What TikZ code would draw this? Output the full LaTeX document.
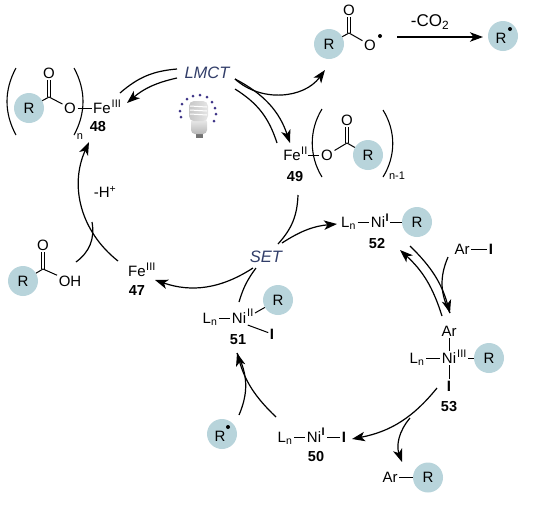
\documentclass[tikz,border=0pt]{standalone}
\usepackage{fontspec}
\setmainfont{Liberation Sans}
\usetikzlibrary{arrows.meta}
\definecolor{rcol}{RGB}{184,212,219}
\definecolor{stepcol}{RGB}{50,62,105}
\definecolor{dotcol}{RGB}{62,52,135}
\tikzset{
  % atom or fragment text
  atom/.style={inner sep=1.5pt, text height=10.7pt, text depth=0pt, font=\fontsize{15}{18}\selectfont},
  % oxidation state
  oxstate/.style={inner sep=0.5pt, font=\fontsize{11}{12}\selectfont},
  % oxidation state I, heavy
  oxheavy/.style={inner sep=0.5pt, font=\fontsize{11}{12}\selectfont\bfseries},
  % iodine
  iodine/.style={atom, font=\fontsize{15}{18}\selectfont\bfseries},
  % R group disc
  rgroup/.style={circle, fill=rcol, inner sep=0pt, minimum size=30pt, text height=10.7pt, text depth=0pt,
                 font=\fontsize{15}{18}\selectfont},
  % radical dot
  raddot/.style={circle, fill=black, inner sep=0pt, minimum size=4pt},
  % compound number
  cpdlabel/.style={inner sep=0pt, font=\fontsize{14.5}{16}\selectfont\bfseries},
  % step name
  steplabel/.style={inner sep=0pt, text=stepcol, font=\fontsize{16.5}{18}\selectfont\itshape},
  % loss label
  losslabel/.style={inner sep=0pt, font=\fontsize{15}{18}\selectfont},
  % bonds
  bond/.style={line width=1pt},
  % one stroke of a double bond
  dbondl/.style={bond, transform canvas={xshift=-1.3pt}},
  dbondr/.style={bond, transform canvas={xshift=1.3pt}},
  % brackets
  paren/.style={line width=1.1pt},
  % plain curve
  rxnline/.style={line width=1.2pt},
  % curve with head
  rxnarrow/.style={rxnline, -{Stealth[length=13pt,width=9.5pt,inset=3.5pt]}},
}
\begin{document}
\begin{tikzpicture}[x=1pt,y=-1pt]
  \useasboundingbox (0,0) rectangle (557,504);

  % 48
  \node[rgroup] (r48) at (29,108) {R};
  \coordinate (c48) at (49,97);
  \node[atom] (otop48) at (49,73) {O};
  \node[atom] (o48) at (70,108) {O};
  \node[atom] (fe48) at (102,108) {Fe};
  \node[oxstate, anchor=west] (ox48) at (111,103.5) {III};
  \node[cpdlabel] (lab48) at (98,127) {48};
  \node[losslabel, font=\fontsize{11}{12}\selectfont] (n48) at (80,137) {n};
  \draw[bond] (r48) -- (c48);
  \draw[dbondl] (c48) -- (otop48);
  \draw[dbondr] (c48) -- (otop48);
  \draw[bond] (c48) -- (o48);
  \draw[bond] (o48) -- (fe48);
  \draw[paren] (16,68) .. controls (4,90) and (4,113) .. (16,135);
  \draw[paren] (74,68) .. controls (86,90) and (86,113) .. (74,135);

  % carboxyl radical and R radical
  \node[rgroup] (rtop) at (329,44) {R};
  \coordinate (ctop) at (349,33);
  \node[atom] (otop) at (349,10) {O};
  \node[atom] (orad) at (370,45) {O};
  \node[raddot] (dotrad) at (380,36) {};
  \node[rgroup] (rfree) at (503,36) {};
  \node[atom] (rfreetext) at (501,38) {R};
  \node[raddot] (dotfree) at (510,29) {};
  \node[losslabel, font=\fontsize{17}{18}\selectfont] (co2) at (430,22) {-CO\textsubscript{2}};
  \draw[bond] (rtop) -- (ctop);
  \draw[dbondl] (ctop) -- (otop);
  \draw[dbondr] (ctop) -- (otop);
  \draw[bond] (ctop) -- (orad);
  \coordinate (co2start) at (397,37);
  \coordinate (co2end) at (483,37);
  \draw[rxnarrow] (co2start) -- (co2end);

  % 49
  \node[atom] (fe49) at (292,155) {Fe};
  \node[oxstate, anchor=west] (ox49) at (300.5,151) {II};
  \coordinate (bond49) at (308,155);
  \node[atom] (o49) at (327,155) {O};
  \coordinate (c49) at (347,143);
  \node[atom] (otop49) at (347,120) {O};
  \node[rgroup] (r49) at (368,155) {R};
  \node[cpdlabel] (lab49) at (295,177) {49};
  \node[losslabel, font=\fontsize{11}{12}\selectfont] (n49) at (397,176) {n-1};
  \draw[bond] (bond49) -- (o49);
  \draw[bond] (o49) -- (c49);
  \draw[dbondl] (c49) -- (otop49);
  \draw[dbondr] (c49) -- (otop49);
  \draw[bond] (c49) -- (r49);
  \draw[paren] (322,109) .. controls (309,130) and (309,156) .. (322,177);
  \draw[paren] (383,110) .. controls (396,131) and (396,156) .. (383,177);

  % LMCT and lamp
  \node[steplabel] (lmct) at (207,73) {LMCT};
  \foreach \dotx/\doty in {181/117,180/111,182/104,187/99,193/96,200/95,207/97,212/102,215/108,216/114,214/121}
    \fill[dotcol] (\dotx,\doty) circle (1.5pt);
  \fill[black!55] (196,132) rectangle (203,138);
  \shade[top color=black!6, bottom color=black!28, rounded corners=4pt] (191,118) rectangle (207,134);
  \shade[left color=black!22, right color=black!10, rounded corners=5pt] (189,101) rectangle (208,121);
  \foreach \liney in {106,110,114}
    \draw[white, line width=1pt] (190,\liney) -- (207,\liney+1);

  \coordinate (lmctA) at (120,93);
  \coordinate (lmctB) at (177,69);
  \coordinate (lmctC) at (177,78);
  \coordinate (lmctD) at (127,103);
  \coordinate (lmctE) at (235,79);
  \coordinate (lmctF) at (325,70);
  \coordinate (lmctG) at (290,143);
  \coordinate (lmctH) at (235,89);
  \coordinate (lmctI) at (277,143);
  \draw[rxnline] (lmctA) to[bend left=18] (lmctB);
  \draw[rxnarrow] (lmctC) to[bend right=14] (lmctD);
  \draw[rxnarrow] (lmctE) to[bend right=48] (lmctF);
  \draw[rxnarrow] (lmctE) to[bend left=22] (lmctG);
  \draw[rxnline] (lmctH) to[bend left=20] (lmctI);

  % SET
  \node[steplabel] (set) at (266,257) {SET};
  \coordinate (setA) at (298,195);
  \coordinate (setB) at (278,244);
  \coordinate (setC) at (282,243);
  \coordinate (setD) at (337,224);
  \coordinate (setE) at (253,268);
  \coordinate (setF) at (155,280);
  \coordinate (setG) at (256,268);
  \coordinate (setH) at (239,302);
  \draw[rxnline] (setA) to[bend left=20] (setB);
  \draw[rxnarrow] (setC) to[bend left=14] (setD);
  \draw[rxnarrow] (setE) to[bend left=26] (setF);
  \draw[rxnline] (setG) to[bend right=10] (setH);

  % 47 and acid
  \node[atom] (fe47) at (137,271) {Fe};
  \node[oxstate, anchor=west] (ox47) at (145.5,267) {III};
  \node[cpdlabel] (lab47) at (137,291) {47};
  \node[rgroup] (racid) at (23,281) {R};
  \coordinate (cacid) at (43,269);
  \node[atom] (oacid) at (43,245) {O};
  \node[atom] (ohacid) at (70,281) {OH};
  \node[losslabel] (hloss) at (105,192) {-H\textsuperscript{+}};
  \draw[bond] (racid) -- (cacid);
  \draw[dbondl] (cacid) -- (oacid);
  \draw[dbondr] (cacid) -- (oacid);
  \draw[bond] (cacid) -- (ohacid);
  \coordinate (ironA) at (118,261);
  \coordinate (ironB) at (89,142);
  \coordinate (acidA) at (76,262);
  \coordinate (acidB) at (92,222);
  \draw[rxnarrow] (ironA) to[bend left=38] (ironB);
  \draw[rxnline] (acidA) to[bend right=32] (acidB);

  % 51
  \node[atom] (ln51) at (210,318) {L\textsubscript{n}};
  \node[atom] (ni51) at (239,318) {Ni};
  \node[oxstate, anchor=west] (ox51) at (246.5,313) {II};
  \coordinate (bond51) at (255,313);
  \node[rgroup] (r51) at (278,300) {R};
  \node[iodine] (i51) at (272,334) {I};
  \node[cpdlabel] (lab51) at (238,340) {51};
  \draw[bond] (ln51) -- (ni51);
  \draw[bond] (bond51) -- (r51);
  \draw[bond] (ni51.south east) -- (i51);

  % 52
  \node[atom] (ln52) at (348.5,222) {L\textsubscript{n}};
  \node[atom] (ni52) at (378,222) {Ni};
  \node[oxheavy, anchor=west] (ox52) at (385,218) {I};
  \coordinate (bond52) at (390,222);
  \node[rgroup] (r52) at (417,222) {R};
  \node[cpdlabel] (lab52) at (377,244) {52};
  \draw[bond] (ln52) -- (ni52);
  \draw[bond] (bond52) -- (r52);

  % aryl iodide
  \node[atom] (ar) at (462,249) {Ar};
  \node[iodine] (iar) at (491,249) {I};
  \draw[bond] (ar) -- (iar);

  % 53
  \node[atom] (ar53) at (449,331) {Ar};
  \node[atom] (ni53) at (449,358) {Ni};
  \node[oxstate, anchor=west] (ox53) at (456.5,354) {III};
  \coordinate (bond53) at (468,358);
  \node[atom] (ln53) at (417,358) {L\textsubscript{n}};
  \node[rgroup] (r53) at (489,358) {R};
  \node[iodine] (i53) at (449,386) {I};
  \node[cpdlabel] (lab53) at (449,407) {53};
  \draw[bond] (ar53) -- (ni53);
  \draw[bond] (ni53) -- (i53);
  \draw[bond] (ln53) -- (ni53);
  \draw[bond] (bond53) -- (r53);
  \coordinate (oxaddA) at (448,257);
  \coordinate (oxaddB) at (450,313);
  \coordinate (oxaddC) at (410,246);
  \coordinate (oxaddD) at (442,316);
  \coordinate (oxaddE) at (400,250);
  \draw[rxnline] (oxaddA) to[bend right=25] (oxaddB);
  \draw[rxnarrow] (oxaddC) to[bend left=15] (oxaddB);
  \draw[rxnarrow] (oxaddD) to[bend right=15] (oxaddE);

  % 50 and products
  \node[atom] (ln50) at (285,437) {L\textsubscript{n}};
  \node[atom] (ni50) at (314,437) {Ni};
  \node[oxheavy, anchor=west] (ox50) at (321,432) {I};
  \coordinate (bond50) at (327,437);
  \node[iodine] (i50) at (344,437) {I};
  \node[cpdlabel] (lab50) at (316,457) {50};
  \node[atom] (arprod) at (390,477.5) {Ar};
  \node[rgroup] (rprod) at (428,477.5) {R};
  \node[rgroup] (rad) at (222,434) {};
  \node[atom] (radtext) at (220,436) {R};
  \node[raddot] (dotrad2) at (228,427) {};
  \draw[bond] (ln50) -- (ni50);
  \draw[bond] (bond50) -- (i50);
  \draw[bond] (arprod) -- (rprod);
  \coordinate (redA) at (437,388);
  \coordinate (redB) at (352,439);
  \coordinate (redC) at (410,418);
  \coordinate (redD) at (402,462);
  \coordinate (capA) at (276,417);
  \coordinate (capB) at (237,353);
  \coordinate (capC) at (239,415);
  \draw[rxnarrow] (redA) to[bend left=20] (redB);
  \draw[rxnarrow] (redC) to[bend right=30] (redD);
  \draw[rxnarrow] (capA) to[bend left=15] (capB);
  \draw[rxnline] (capC) to[bend right=25] (capB);
\end{tikzpicture}
\end{document}
